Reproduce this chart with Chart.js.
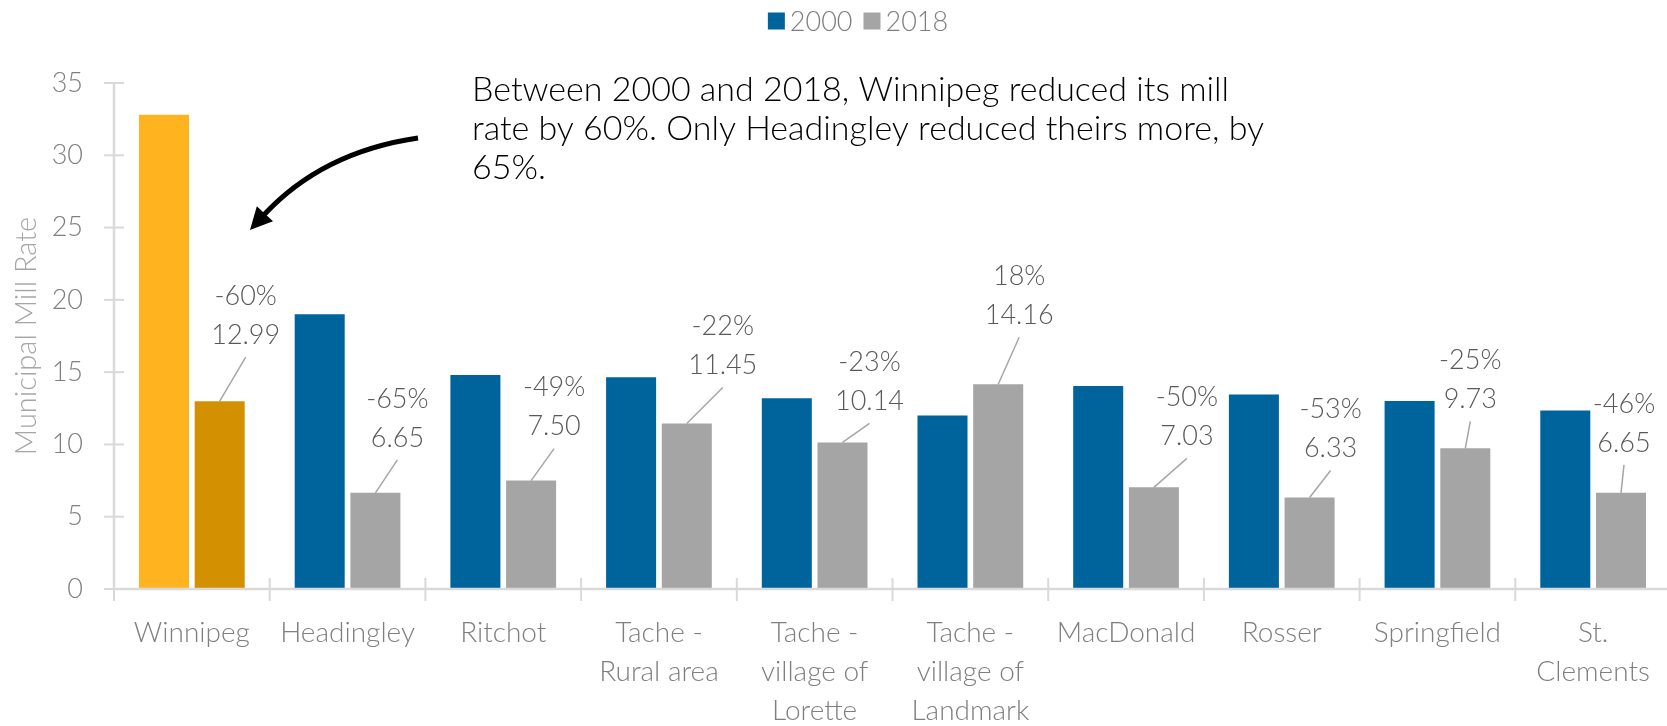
<!DOCTYPE html>
<html>
<head>
<meta charset="utf-8">
<script src="https://cdn.jsdelivr.net/npm/chart.js@4.4.1/dist/chart.umd.min.js"></script>
<style>
  html, body { margin: 0; padding: 0; background: #fff; overflow: hidden; }
  #wrap { width: 1718px; height: 726px; }
</style>
</head>
<body>
<div id="wrap"><canvas id="millChart"></canvas></div>
<script>
// municipalities (multi-line names wrap like the axis)
const municipalities = [
  'Winnipeg', 'Headingley', 'Ritchot',
  ['Tache -', 'Rural area'],
  ['Tache -', 'village of', 'Lorette'],
  ['Tache -', 'village of', 'Landmark'],
  'MacDonald', 'Rosser', 'Springfield',
  ['St.', 'Clements']
];
const rate2000 = [32.8, 19.0, 14.8, 14.65, 13.2, 12.0, 14.05, 13.45, 13.0, 12.35];
const rate2018 = [12.99, 6.65, 7.50, 11.45, 10.14, 14.16, 7.03, 6.33, 9.73, 6.65];
const changePct = ['-60%', '-65%', '-49%', '-22%', '-23%', '18%', '-50%', '-53%', '-25%', '-46%'];
const seriesNames = ['2000', '2018'];
const yTicks = [0, 5, 10, 15, 20, 25, 30, 35];

const COLORS = {
  blue: '#00649C',
  gray: '#A5A5A5',
  orange: '#FFB41F',
  orangeDark: '#D39000',
  axis: '#D9D9D9',
  tick: '#7F7F7F',
  title: '#A6A6A6',
  label: '#595959',
  leader: '#A6A6A6'
};
const FAMILY = "Lato, 'Open Sans', sans-serif";
const FONT_SIZE = 27;

// label position for each 2018 value: [dx, dy] from the bar top
const LABEL_NUDGE = [[26, 66], [22, 55], [23, 54], [36, 58], [27, 41], [21, 69], [33, 51], [21, 49], [5, 49], [3, 50]];

// axis lines with tick marks that cross the line
const AxisCross = {
  id: 'AxisCross',
  afterDatasetsDraw(chart) {
    const { ctx, chartArea, scales: { x, y } } = chart;
    const y0 = y.getPixelForValue(0);
    ctx.save();
    ctx.strokeStyle = COLORS.axis;
    ctx.lineWidth = 2.5;
    ctx.beginPath();
    ctx.moveTo(chartArea.left, y.getPixelForValue(yTicks[yTicks.length - 1]));
    ctx.lineTo(chartArea.left, y0);
    ctx.lineTo(chartArea.right, y0);
    ctx.stroke();

    ctx.lineWidth = 2;
    yTicks.forEach(v => {
      const py = y.getPixelForValue(v);
      ctx.beginPath();
      ctx.moveTo(chartArea.left - 10, py);
      ctx.lineTo(chartArea.left + 10, py);
      ctx.stroke();
    });
    const half = (x.getPixelForValue(1) - x.getPixelForValue(0)) / 2;
    for (let i = 0; i <= municipalities.length; i++) {
      const px = x.getPixelForValue(i) - half;
      ctx.beginPath();
      ctx.moveTo(px, y0 - 11);
      ctx.lineTo(px, y0 + 12);
      ctx.stroke();
    }
    ctx.restore();
  }
};

// 2018 value + change labels with leader lines
const ChangeLabels = {
  id: 'ChangeLabels',
  afterDatasetsDraw(chart) {
    const { ctx } = chart;
    const meta = chart.getDatasetMeta(1);
    ctx.save();
    ctx.font = `300 ${FONT_SIZE}px ${FAMILY}`;
    ctx.textAlign = 'center';
    ctx.textBaseline = 'middle';
    meta.data.forEach((bar, i) => {
      const [dx, dy] = LABEL_NUDGE[i];
      const lx = bar.x + dx;
      const ly = bar.y - dy;
      ctx.strokeStyle = COLORS.leader;
      ctx.lineWidth = 1.5;
      ctx.beginPath();
      ctx.moveTo(bar.x, bar.y);
      ctx.lineTo(lx, ly + 22);
      ctx.stroke();
      ctx.fillStyle = COLORS.label;
      ctx.fillText(rate2018[i].toFixed(2), lx, ly);
      ctx.fillText(changePct[i], lx, ly - 39);
    });
    ctx.restore();
  }
};

// legend, note text and curved arrow
const Extras = {
  id: 'Extras',
  afterDraw(chart) {
    const { ctx } = chart;
    ctx.save();

    // legend
    ctx.font = `300 ${FONT_SIZE}px ${FAMILY}`;
    ctx.textBaseline = 'middle';
    ctx.textAlign = 'left';
    const box = 17, gapText = 5, gapItem = 11, cy = 21;
    const swatches = [COLORS.blue, COLORS.gray];
    const widths = seriesNames.map(s => ctx.measureText(s).width);
    const total = widths.reduce((a, w) => a + box + gapText + w, 0) + gapItem;
    let lx = 858 - total / 2;
    seriesNames.forEach((name, i) => {
      ctx.fillStyle = swatches[i];
      ctx.fillRect(lx, cy - box / 2, box, box);
      lx += box + gapText;
      ctx.fillStyle = COLORS.tick;
      ctx.fillText(name, lx, cy + 1);
      lx += widths[i] + gapItem;
    });

    // note
    ctx.font = `300 34px ${FAMILY}`;
    ctx.fillStyle = '#000';
    const note = [
      'Between 2000 and 2018, Winnipeg reduced its mill',
      'rate by 60%. Only Headingley reduced theirs more, by',
      '65%.'
    ];
    note.forEach((line, i) => ctx.fillText(line, 472, 90 + i * 39));

    // arrow
    const sx = 418, sy = 138, cx = 322, cy2 = 152, tx = 250, ty = 230;
    let ux = tx - cx, uy = ty - cy2;
    const len = Math.hypot(ux, uy);
    ux /= len; uy /= len;
    const bx = tx - ux * 22, by = ty - uy * 22;
    ctx.strokeStyle = '#000';
    ctx.lineWidth = 5;
    ctx.beginPath();
    ctx.moveTo(sx, sy);
    ctx.quadraticCurveTo(cx, cy2, bx + ux * 2, by + uy * 2);
    ctx.stroke();
    ctx.fillStyle = '#000';
    ctx.beginPath();
    ctx.moveTo(tx, ty);
    ctx.lineTo(bx - uy * 11, by + ux * 11);
    ctx.lineTo(bx + uy * 11, by - ux * 11);
    ctx.closePath();
    ctx.fill();

    ctx.restore();
  }
};

new Chart(document.getElementById('millChart'), {
  type: 'bar',
  data: {
    labels: municipalities,
    datasets: [
      {
        label: seriesNames[0],
        data: rate2000,
        backgroundColor: rate2000.map((_, i) => (i === 0 ? COLORS.orange : COLORS.blue)),
        categoryPercentage: 0.7155,
        barPercentage: 0.898
      },
      {
        label: seriesNames[1],
        data: rate2018,
        backgroundColor: rate2018.map((_, i) => (i === 0 ? COLORS.orangeDark : COLORS.gray)),
        categoryPercentage: 0.7155,
        barPercentage: 0.898
      }
    ]
  },
  options: {
    responsive: true,
    maintainAspectRatio: false,
    animation: false,
    layout: { padding: { top: 83, right: 47, bottom: 0, left: 0 } },
    plugins: {
      legend: { display: false },
      tooltip: { enabled: false }
    },
    scales: {
      x: {
        grid: { display: false, drawTicks: false },
        border: { display: false },
        ticks: {
          color: COLORS.tick,
          font: { family: FAMILY, size: 28, weight: '300', lineHeight: 1.38 },
          padding: 25,
          maxRotation: 0,
          autoSkip: false
        },
        afterFit(scale) { scale.height = 137; }
      },
      y: {
        min: 0,
        max: 35,
        grid: { display: false, drawTicks: false },
        border: { display: false },
        ticks: {
          stepSize: 5,
          color: COLORS.tick,
          font: { family: FAMILY, size: FONT_SIZE, weight: '300' },
          padding: 31
        },
        title: {
          display: true,
          text: 'Municipal Mill Rate',
          color: COLORS.title,
          font: { family: FAMILY, size: 29, weight: '300', lineHeight: 1.2 },
          padding: { top: 9, bottom: 0 }
        },
        afterFit(scale) { scale.width = 114; }
      }
    }
  },
  plugins: [AxisCross, ChangeLabels, Extras]
});
</script>
</body>
</html>
